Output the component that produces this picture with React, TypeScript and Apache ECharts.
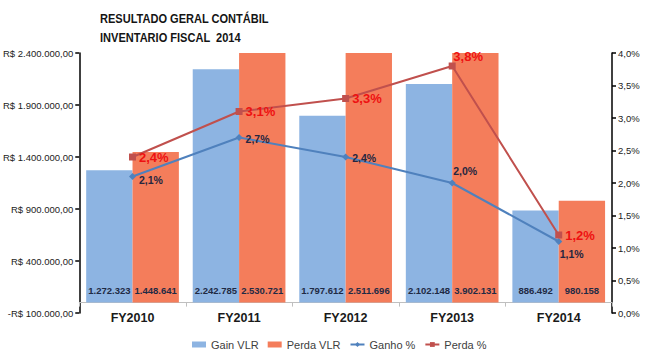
import React, { useEffect, useRef } from "react";
import * as echarts from "echarts";

const categories = ["FY2010", "FY2011", "FY2012", "FY2013", "FY2014"];
const gainVlr = [1272323, 2242785, 1797612, 2102148, 886492];
const perdaVlr = [1448641, 2530721, 2511696, 3902131, 980158];
const ganhoPct = [2.1, 2.7, 2.4, 2.0, 1.1];
const perdaPct = [2.4, 3.1, 3.3, 3.8, 1.2];
const titleLines = ["RESULTADO GERAL CONTÁBIL", "INVENTARIO FISCAL  2014"];

const FONT = "Liberation Sans, Arial, sans-serif";

const fmtThousands = (v: number) =>
  Math.abs(Math.round(v)).toString().replace(/\B(?=(\d{3})+(?!\d))/g, ".");
const fmtMoney = (v: number) => (v < 0 ? "-" : "") + "R$ " + fmtThousands(v) + ",00";
const fmtPct = (v: number) => v.toFixed(1).replace(".", ",") + "%";

// label placement per point (style, not data)
const perdaLabelPos: any[] = [
  { position: "right", offset: [0, 0] },
  { position: "right", offset: [0, 0] },
  { position: "right", offset: [0, 0] },
  { position: "top", offset: [16, 3] },
  { position: "right", offset: [0, 0] },
];
const ganhoLabelPos: any[] = [
  { position: "right", offset: [0, 3] },
  { position: "right", offset: [0, 1] },
  { position: "right", offset: [0, 1] },
  { position: "top", offset: [13, 0] },
  { position: "bottom", offset: [13, 0] },
];

export default function App() {
  const ref = useRef<HTMLDivElement>(null);
  useEffect(() => {
    if (!ref.current) return;
    const chart = echarts.init(ref.current, null, { renderer: "svg" });
    const barLabel = {
      show: true,
      position: "insideBottom",
      distance: 7,
      fontFamily: FONT,
      fontSize: 9.5,
      fontWeight: "bold",
      color: "#1f2a44",
      formatter: (p: any) => fmtThousands(p.value),
    };
    chart.setOption({
      animation: false,
      textStyle: { fontFamily: FONT },
      graphic: titleLines.map((t, i) => ({
        type: "text",
        x: 100,
        y: 12 + i * 19,
        scaleX: 0.85,
        style: {
          text: t,
          fontFamily: FONT,
          fontSize: 13,
          fontWeight: "bold",
          fill: "#141414",
        },
      })),
      legend: {
        top: 334,
        left: 187,
        itemWidth: 14,
        itemHeight: 6,
        itemGap: 9,
        textStyle: {
          fontFamily: FONT,
          fontSize: 11,
          color: "#404040",
        },
        data: [
          { name: "Gain VLR", icon: "rect" },
          { name: "Perda VLR", icon: "rect" },
          { name: "Ganho %" },
          { name: "Perda %" },
        ],
      },
      grid: { left: 77, right: 53, top: 53, bottom: 38, containLabel: false },
      xAxis: {
        type: "category",
        data: categories,
        axisLine: { onZero: true, lineStyle: { color: "#bfbfbf", width: 1 } },
        axisTick: { show: true, length: 4, lineStyle: { color: "#bfbfbf" } },
        axisLabel: {
          margin: -2,
          fontFamily: FONT,
          fontSize: 12.5,
          fontWeight: "bold",
          color: "#1a1a1a",
        },
      },
      yAxis: [
        {
          type: "value",
          min: -100000,
          max: 2400000,
          interval: 500000,
          position: "left",
          splitLine: { show: false },
          axisLine: { show: true, lineStyle: { color: "#000", width: 1.5 } },
          axisTick: { show: true, length: 4, lineStyle: { color: "#000", width: 1.5 } },
          axisLabel: {
            margin: 6,
            fontFamily: FONT,
            fontSize: 9.5,
            color: "#222",
            formatter: (v: number) => fmtMoney(v),
          },
        },
        {
          type: "value",
          min: 0,
          max: 4,
          interval: 0.5,
          position: "right",
          splitLine: { show: false },
          axisLine: { show: true, lineStyle: { color: "#000", width: 1.5 } },
          axisTick: { show: true, length: 4, lineStyle: { color: "#000", width: 1.5 } },
          axisLabel: {
            margin: 6,
            fontFamily: FONT,
            fontSize: 9.5,
            color: "#222",
            formatter: (v: number) => fmtPct(v),
          },
        },
      ],
      series: [
        {
          name: "Gain VLR",
          type: "bar",
          data: gainVlr,
          barGap: "0%",
          barCategoryGap: "13%",
          clip: true,
          itemStyle: { color: "#8db4e2" },
          label: barLabel,
        },
        {
          name: "Perda VLR",
          type: "bar",
          data: perdaVlr,
          clip: true,
          itemStyle: { color: "#f47d5b" },
          label: barLabel,
        },
        {
          name: "Ganho %",
          type: "line",
          yAxisIndex: 1,
          z: 5,
          symbol: "diamond",
          symbolSize: 7,
          lineStyle: { color: "#4f81bd", width: 2 },
          itemStyle: { color: "#4f81bd" },
          data: ganhoPct.map((v, i) => ({
            value: v,
            label: {
              show: true,
              position: ganhoLabelPos[i].position,
              offset: ganhoLabelPos[i].offset,
              distance: 3,
              fontFamily: FONT,
              fontSize: 10.5,
              fontWeight: "bold",
              color: "#262640",
              formatter: (p: any) => fmtPct(p.value),
            },
          })),
        },
        {
          name: "Perda %",
          type: "line",
          yAxisIndex: 1,
          z: 6,
          symbol: "rect",
          symbolSize: 7,
          lineStyle: { color: "#c0504d", width: 2 },
          itemStyle: { color: "#c0504d" },
          data: perdaPct.map((v, i) => ({
            value: v,
            label: {
              show: true,
              position: perdaLabelPos[i].position,
              offset: perdaLabelPos[i].offset,
              distance: 3,
              fontFamily: FONT,
              fontSize: 13,
              fontWeight: "bold",
              color: "#ee1111",
              formatter: (p: any) => fmtPct(p.value),
            },
          })),
        },
      ],
    });
    return () => chart.dispose();
  }, []);
  return (
    <div
      ref={ref}
      style={{ position: "fixed", left: 0, top: 0, width: 665, height: 351, background: "#fff" }}
    />
  );
}
